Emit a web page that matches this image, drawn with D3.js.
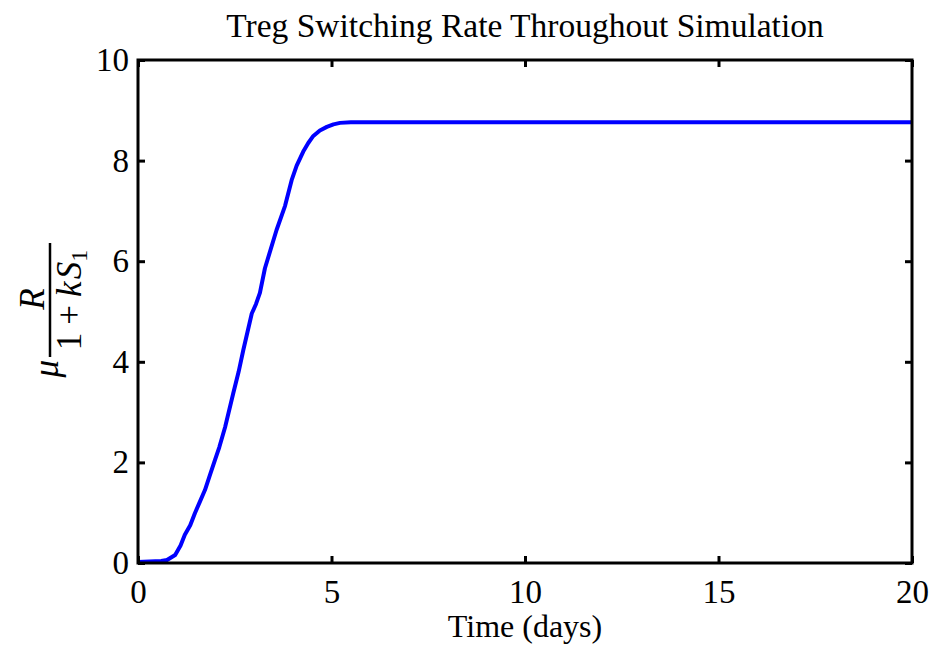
<!DOCTYPE html>
<html>
<head>
<meta charset="utf-8">
<script src="https://cdn.jsdelivr.net/npm/d3@7"></script>
<style>
  html, body { margin: 0; padding: 0; background: #fff; }
  svg { display: block; }
  text { font-family: "Liberation Serif", "Times New Roman", serif; fill: #000; }
</style>
</head>
<body>
<svg id="chart" width="933" height="647"></svg>
<script>
// Simulated Treg switching rate over time
const timeDays = [0, 0.3, 0.6, 0.75, 0.96, 1.1, 1.21, 1.35, 1.47, 1.6, 1.73, 1.86, 1.99, 2.1, 2.25,
  2.46, 2.6, 2.72, 2.94, 3.05, 3.15, 3.28, 3.58, 3.8, 3.97, 4.1, 4.27, 4.4, 4.53, 4.7, 4.88,
  5.05, 5.22, 5.5, 20];
const switchRate = [0.02, 0.03, 0.04, 0.06, 0.16, 0.35, 0.56, 0.75, 0.99, 1.22, 1.45, 1.75, 2.05, 2.3, 2.7,
  3.37, 3.8, 4.23, 4.96, 5.15, 5.37, 5.86, 6.62, 7.1, 7.61, 7.9, 8.18, 8.35, 8.49, 8.6, 8.67,
  8.72, 8.75, 8.76, 8.76];

const xTicks = [0, 5, 10, 15, 20];
const yTicks = [0, 2, 4, 6, 8, 10];

const titleText = "Treg Switching Rate Throughout Simulation";
const xLabelText = "Time (days)";

const svg = d3.select("#chart");
const box = { left: 138, right: 912, top: 60, bottom: 563 };

const x = d3.scaleLinear().domain([0, 20]).range([box.left, box.right]);
const y = d3.scaleLinear().domain([0, 10]).range([box.bottom, box.top]);

const tickFont = 33;
const tickLen = 7;

// Data line
const line = d3.line().x((d, i) => x(timeDays[i])).y(d => y(d));
svg.append("path")
  .datum(switchRate)
  .attr("d", line)
  .attr("fill", "none")
  .attr("stroke", "#0000ff")
  .attr("stroke-width", 4)
  .attr("stroke-linejoin", "round");

function styleAxis(g) {
  g.select(".domain").remove();
  g.selectAll(".tick line").attr("stroke", "#000").attr("stroke-width", 3);
  g.selectAll(".tick text").attr("font-size", tickFont)
    .attr("font-family", "'Liberation Serif', 'Times New Roman', serif");
}

// Bottom axis with labels
svg.append("g")
  .attr("transform", `translate(0,${box.bottom})`)
  .call(d3.axisBottom(x).tickValues(xTicks).tickSize(-tickLen).tickPadding(17).tickFormat(d3.format("d")))
  .call(styleAxis);

// Top axis, ticks only
svg.append("g")
  .attr("transform", `translate(0,${box.top})`)
  .call(d3.axisTop(x).tickValues(xTicks).tickSize(-tickLen).tickFormat(""))
  .call(styleAxis);

// Left axis with labels
svg.append("g")
  .attr("transform", `translate(${box.left},0)`)
  .call(d3.axisLeft(y).tickValues(yTicks).tickSize(-tickLen).tickPadding(9).tickFormat(d3.format("d")))
  .call(styleAxis);

// Right axis, ticks only
svg.append("g")
  .attr("transform", `translate(${box.right},0)`)
  .call(d3.axisRight(y).tickValues(yTicks).tickSize(-tickLen).tickFormat(""))
  .call(styleAxis);

// Axes box
svg.append("rect")
  .attr("x", box.left).attr("y", box.top)
  .attr("width", box.right - box.left).attr("height", box.bottom - box.top)
  .attr("fill", "none").attr("stroke", "#000").attr("stroke-width", 3);

// Title
svg.append("text")
  .attr("x", (box.left + box.right) / 2).attr("y", 37)
  .attr("text-anchor", "middle").attr("font-size", 33.5)
  .text(titleText);

// X axis label
svg.append("text")
  .attr("x", (box.left + box.right) / 2).attr("y", 637)
  .attr("text-anchor", "middle").attr("font-size", 32)
  .text(xLabelText);

// Y axis label: mu * R / (1 + k S_1), rotated
const yl = svg.append("g").attr("transform", "translate(50,311) rotate(-90)");
const mathSize = 35;
yl.append("line")
  .attr("x1", -46).attr("x2", 68).attr("y1", 0).attr("y2", 0)
  .attr("stroke", "#000").attr("stroke-width", 2.5);
yl.append("text")
  .attr("x", 12).attr("y", -6)
  .attr("text-anchor", "middle").attr("font-size", mathSize).attr("font-style", "italic")
  .text("R");
const den = yl.append("text")
  .attr("x", 11).attr("y", 31)
  .attr("text-anchor", "middle").attr("font-size", mathSize);
den.append("tspan").text("1");
den.append("tspan").attr("dx", 8).text("+");
den.append("tspan").attr("dx", 8).attr("font-style", "italic").text("k");
den.append("tspan").attr("dx", 2).attr("font-style", "italic").text("S");
den.append("tspan").attr("font-size", 24).attr("dy", 6).text("1");
yl.append("text")
  .attr("x", -49).attr("y", 8)
  .attr("text-anchor", "end").attr("font-size", mathSize).attr("font-style", "italic")
  .text("μ");
</script>
</body>
</html>
